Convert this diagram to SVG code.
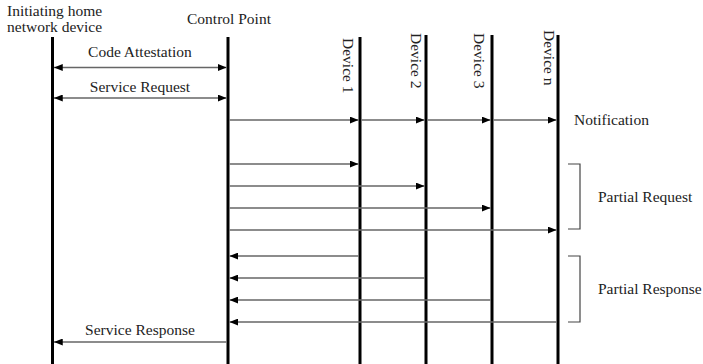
<svg xmlns="http://www.w3.org/2000/svg" width="703" height="364" viewBox="0 0 703 364">
<style>
text{font-family:"Liberation Serif","Times New Roman",serif;font-size:15.5px;fill:#222}
.life{stroke:#000;stroke-width:3;fill:none}
.msg{stroke:#666;stroke-width:1.4;fill:none}
.br{stroke:#444;stroke-width:1.2;fill:none}
</style>
<defs>
<marker id="ah" viewBox="0 0 10 8" refX="10" refY="4" markerWidth="9" markerHeight="7" markerUnits="userSpaceOnUse" orient="auto-start-reverse">
<path d="M0,0 L10,4 L0,8 z" fill="#000"/>
</marker>
</defs>
<rect width="703" height="364" fill="#fff"/>
<g id="init">
<line class="life" x1="52.5" y1="37" x2="52.5" y2="364"/>
<text x="7" y="16">Initiating home</text>
<text x="7" y="32">network device</text>
</g>
<g id="cp">
<line class="life" x1="228" y1="37" x2="228" y2="364"/>
<text x="187" y="24">Control Point</text>
</g>
<g id="dev1">
<line class="life" x1="360" y1="37" x2="360" y2="364"/>
<text transform="translate(343,38) rotate(90)">Device 1</text>
</g>
<g id="dev2">
<line class="life" x1="426" y1="35" x2="426" y2="364"/>
<text transform="translate(410.5,33) rotate(90)">Device 2</text>
</g>
<g id="dev3">
<line class="life" x1="492" y1="35" x2="492" y2="364"/>
<text transform="translate(473.5,33) rotate(90)">Device 3</text>
</g>
<g id="devn">
<line class="life" x1="558" y1="35" x2="558" y2="364"/>
<text transform="translate(543.5,30) rotate(90)">Device n</text>
</g>
<g id="connectors">
<line class="msg" x1="54" y1="67.5" x2="226.5" y2="67.5" marker-start="url(#ah)" marker-end="url(#ah)"/>
<line class="msg" x1="54" y1="98" x2="226.5" y2="98" marker-start="url(#ah)" marker-end="url(#ah)"/>
<line class="msg" x1="229.5" y1="120" x2="358.5" y2="120" marker-end="url(#ah)"/>
<line class="msg" x1="361.5" y1="120" x2="424.5" y2="120" marker-end="url(#ah)"/>
<line class="msg" x1="427.5" y1="120" x2="490.5" y2="120" marker-end="url(#ah)"/>
<line class="msg" x1="493.5" y1="120" x2="556.5" y2="120" marker-end="url(#ah)"/>
<line class="msg" x1="229.5" y1="164" x2="358.5" y2="164" marker-end="url(#ah)"/>
<line class="msg" x1="229.5" y1="186" x2="424.5" y2="186" marker-end="url(#ah)"/>
<line class="msg" x1="229.5" y1="208" x2="490.5" y2="208" marker-end="url(#ah)"/>
<line class="msg" x1="229.5" y1="230" x2="556.5" y2="230" marker-end="url(#ah)"/>
<line class="msg" x1="358.5" y1="256" x2="229.5" y2="256" marker-end="url(#ah)"/>
<line class="msg" x1="424.5" y1="278" x2="229.5" y2="278" marker-end="url(#ah)"/>
<line class="msg" x1="490.5" y1="300" x2="229.5" y2="300" marker-end="url(#ah)"/>
<line class="msg" x1="556.5" y1="322" x2="229.5" y2="322" marker-end="url(#ah)"/>
<line class="msg" x1="226.5" y1="342" x2="54" y2="342" marker-end="url(#ah)"/>
<path class="br" d="M568,164 H580 V229 H568"/>
<path class="br" d="M568,256 H580 V322 H568"/>
</g>
<g id="labels">
<text x="140" y="57" text-anchor="middle">Code Attestation</text>
<text x="140" y="92" text-anchor="middle">Service Request</text>
<text x="574" y="125">Notification</text>
<text x="598" y="202">Partial Request</text>
<text x="598" y="294">Partial Response</text>
<text x="140" y="335" text-anchor="middle">Service Response</text>
</g>
</svg>
